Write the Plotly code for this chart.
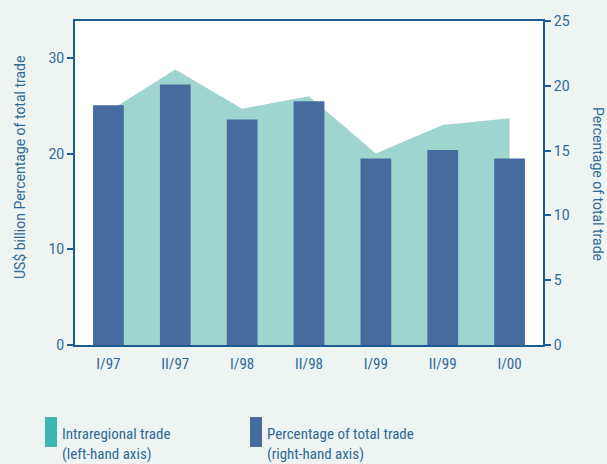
import plotly.graph_objects as go

# data
periods = ["I/97", "II/97", "I/98", "II/98", "I/99", "II/99", "I/00"]
intraregional_trade = [24.4, 28.8, 24.7, 26.0, 20.0, 23.0, 23.7]   # US$ billion, left axis
pct_total_trade = [18.5, 20.1, 17.4, 18.8, 14.4, 15.05, 14.4]      # %, right axis

BG = "#eef4f1"
AREA = "#a0d4ce"
BAR = "#486b9f"
AXIS = "#1b5c93"
TXT = "#2d6a98"
SWATCH1 = "#3cb6b0"

num_font = dict(family="Roboto, Arial", size=14, color=TXT)
cond_font = dict(family="Liberation Sans Narrow, Roboto Condensed, Arial Narrow, Roboto", size=15, color=TXT)

# plot box in pixels (for placing the hand-made legend and titles)
L, R, T, B = 75, 543, 21, 345


def px(x):
    return (x - L) / (R - L)


def py(y):
    return (B - y) / (B - T)


def main():
    fig = plot()
    # drop the page's default body margin so the chart sits at 0,0
    fig.write_html("out.html", config={"displayModeBar": False},
                   post_script="document.body.style.margin='0';")


def plot():
    fig = go.Figure()
    fig.add_trace(go.Scatter(
        x=periods, y=intraregional_trade, fill="tozeroy", mode="lines",
        line=dict(width=0), fillcolor=AREA, yaxis="y", hoverinfo="x+y",
    ))
    fig.add_trace(go.Bar(
        x=periods, y=pct_total_trade, marker=dict(color=BAR, line=dict(width=0)),
        yaxis="y2",
    ))

    fig.update_layout(
        width=607, height=464,
        margin=dict(l=L, r=607 - R, t=T, b=464 - B),
        paper_bgcolor=BG, plot_bgcolor="white",
        showlegend=False, bargap=0.54,
        xaxis=dict(
            showline=True, linecolor=AXIS, linewidth=2, mirror=True,
            ticks="", tickfont=cond_font, showgrid=False, ticklabelstandoff=4,
        ),
        yaxis=dict(
            range=[0, 33.86], tickvals=[0, 10, 20, 30], showline=True,
            linecolor=AXIS, linewidth=2, ticks="outside", ticklen=6,
            tickcolor=AXIS, tickwidth=2, tickfont=num_font, showgrid=False,
            zeroline=False,
        ),
        yaxis2=dict(
            range=[0, 25], tickvals=[0, 5, 10, 15, 20, 25], overlaying="y",
            side="right", showline=True, linecolor=AXIS, linewidth=2,
            ticks="outside", ticklen=6, tickcolor=AXIS, tickwidth=2,
            tickfont=num_font, showgrid=False, zeroline=False,
        ),
    )

    # axis titles
    fig.add_annotation(
        text="US$ billion Percentage of total trade", xref="paper", yref="paper",
        x=px(20), y=py(168), xanchor="center", yanchor="middle",
        textangle=-90, showarrow=False,
        font=dict(family="Roboto, Arial", size=14, color=TXT),
    )
    fig.add_annotation(
        text="Percentage of total trade", xref="paper", yref="paper",
        x=px(598), y=py(184), xanchor="center", yanchor="middle",
        textangle=90, showarrow=False,
        font=dict(family="Roboto, Arial", size=14, color=TXT),
    )

    # legend drawn by hand below the plot
    legend = [
        (45, SWATCH1, "Intraregional trade", "(left-hand axis)"),
        (250, BAR, "Percentage of total trade", "(right-hand axis)"),
    ]
    for x0, col, l1, l2 in legend:
        fig.add_shape(
            type="rect", xref="paper", yref="paper",
            x0=px(x0), x1=px(x0 + 12), y0=py(447), y1=py(417),
            fillcolor=col, line=dict(width=0),
        )
        for txt, yc in ((l1, 434), (l2, 454)):
            fig.add_annotation(
                text=txt, xref="paper", yref="paper",
                x=px(x0 + 15), y=py(yc), xanchor="left", yanchor="middle",
                showarrow=False, font=cond_font,
            )
    return fig


main()
